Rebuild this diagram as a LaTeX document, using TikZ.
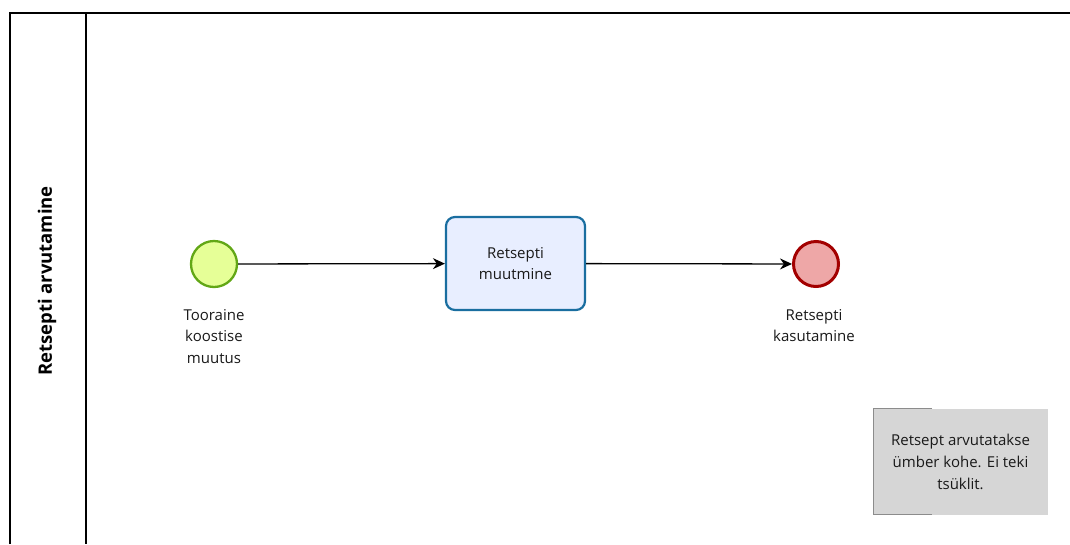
\documentclass[tikz,border=0pt]{standalone}
\usepackage{fontspec}
\setmainfont{Open Sans}
\usetikzlibrary{arrows.meta}
\definecolor{startfill}{HTML}{E6FF97}
\definecolor{startdraw}{HTML}{62A716}
\definecolor{taskfill}{HTML}{E8EEFF}
\definecolor{taskdraw}{HTML}{1A6EA0}
\definecolor{endfill}{HTML}{EEA7A7}
\definecolor{enddraw}{HTML}{A30000}
\definecolor{notefill}{HTML}{D6D6D6}
\definecolor{notedraw}{HTML}{8C8C8C}
\tikzset{
  lbl/.style={font=\fontsize{15}{21.5}\selectfont, align=center, text=black!90, inner sep=0},
  startev/.style={circle, draw=startdraw, fill=startfill, line width=2.3pt, minimum size=46pt, inner sep=0},
  endev/.style={circle, draw=enddraw, fill=endfill, line width=3pt, minimum size=45pt, inner sep=0},
  taskbox/.style={rectangle, rounded corners=9pt, draw=taskdraw, fill=taskfill, line width=2.2pt, minimum width=139pt, minimum height=93pt, lbl},
  flow/.style={draw=black, line width=1.3pt, -{Stealth[length=12pt,width=11pt]}},
}
\begin{document}
\begin{tikzpicture}[x=1pt,y=-1pt]
\useasboundingbox (0,0) rectangle (1070,544);
% pool
\draw[line width=1.2pt] (10,544) -- (10,13) -- (1070,13);
\draw[line width=1.2pt] (86,13) -- (86,544);
\node[rotate=90, font=\fontsize{18.5}{22}\selectfont\bfseries] (lane) at (47,281) {Retsepti arvutamine};
% nodes
\node[startev] (start) at (214,264) {};
\node[lbl, anchor=north] (startlbl) at (214,309) {Tooraine\\koostise\\muutus};
\node[taskbox] (task) at (515.5,263.5) {Retsepti\\muutmine};
\node[endev] (end) at (816,264) {};
\node[lbl, anchor=north] (endlbl) at (814,309) {Retsepti\\kasutamine};
% flows
\draw[flow] (start) -- (task);
\draw[flow] (task) -- (end);
% annotation
\node[rectangle, fill=notefill, minimum width=175pt, minimum height=106pt, lbl, font=\fontsize{15}{22}\selectfont] (note) at (960.5,462) {Retsept arvutatakse\\ümber kohe. Ei teki\\tsüklit.};
\draw[notedraw, line width=1pt] (932,408) -- (873.5,408) -- (873.5,514) -- (932,514);
\end{tikzpicture}
\end{document}
